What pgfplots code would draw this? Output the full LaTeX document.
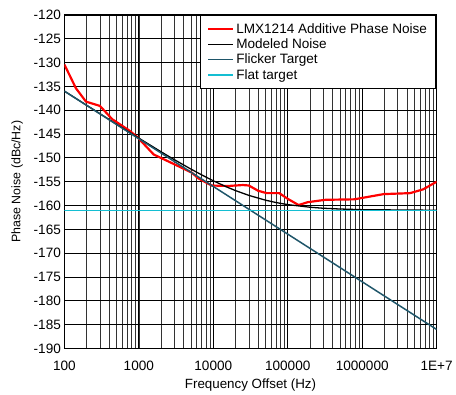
\documentclass[border=0pt]{standalone}
\usepackage{fontspec}
\setmainfont{Liberation Sans}
\usepackage{pgfplots}
\pgfplotsset{compat=1.18}
\usetikzlibrary{calc}
\definecolor{flick}{RGB}{30,85,105}
\definecolor{flat}{RGB}{20,190,210}
\begin{document}
\begin{tikzpicture}
\begin{axis}[
  scale only axis,
  width=376pt, height=337pt,
  xmode=log,
  xmin=100, xmax=1e7,
  ymin=-190, ymax=-120,
  xtick={100,1000,10000,100000,1000000,10000000},
  xticklabels={100,1000,10000,100000,1000000,1E+7},
  ytick={-190,-185,...,-120},
  yticklabels={-190,-185,-180,-175,-170,-165,-160,-155,-150,-145,-140,-135,-130,-125,-120},
  grid=both,
  major grid style={black, line width=0.8pt},
  minor grid style={black!80, line width=0.6pt},
  major tick length=0pt, minor tick length=0pt,
  axis line style={black, line width=1.6pt},
  tick label style={font=\fontsize{13.7}{14}\selectfont},
  xticklabel style={yshift=-9pt},
  label style={font=\fontsize{13.5}{14}\selectfont},
  xlabel={Frequency Offset (Hz)},
  ylabel={Phase Noise (dBc/Hz)},
  xlabel style={yshift=-1pt},
  ylabel style={yshift=4pt, font=\fontsize{12.5}{13}\selectfont},
  legend cell align=left,
  legend style={at={(1,1)}, anchor=north east, draw=black, line width=1.4pt,
    font=\fontsize{13.7}{13.7}\selectfont, inner xsep=7pt, inner ysep=6pt, row sep=0pt},
  legend image code/.code={\draw[#1] (0pt,0pt) -- (25pt,0pt);},
]
\addplot[red, line width=2.2pt] coordinates {
(100,-130.4) (143,-135.4) (195,-138.2) (300,-139.1) (440,-141.9) (735,-144.2)
(950,-145.6) (1585,-149.3) (2780,-151.1) (5140,-153.1) (6300,-154.3) (9500,-155.8)
(15800,-155.9) (25000,-155.7) (30000,-155.8) (40000,-156.9) (52000,-157.4)
(77000,-157.4) (100000,-158.6) (140000,-159.9) (185000,-159.3) (320000,-158.8)
(780000,-158.7) (1950000,-157.6) (4400000,-157.4) (6600000,-156.6) (10000000,-155.0)
};
\addlegendentry{LMX1214 Additive Phase Noise}
\addplot[black, line width=1.3pt] coordinates {
(100,-135.99) (200,-138.98) (500,-142.92) (1000,-145.86) (2000,-148.75)
(3000,-150.38) (5000,-152.35) (7000,-153.58) (10000,-154.81) (15000,-156.08)
(20000,-156.88) (30000,-157.87) (50000,-158.87) (70000,-159.38) (100000,-159.81)
(200000,-160.36) (300000,-160.57) (500000,-160.73) (1000000,-160.87) (10000000,-160.99)
};
\addlegendentry{Modeled Noise}
\addplot[flick, line width=1.5pt] coordinates {(100,-136) (10000000,-186)};
\addlegendentry{Flicker Target}
\addplot[flat, line width=1.4pt] coordinates {(100,-161) (10000000,-161)};
\addlegendentry{Flat target}
\coordinate (tl) at (rel axis cs:0,1);
\coordinate (br) at (rel axis cs:1,0);
\end{axis}
\path ($(tl)+(-65pt,15pt)$) rectangle ($(br)+(15pt,-39pt)$);
\end{tikzpicture}
\end{document}
